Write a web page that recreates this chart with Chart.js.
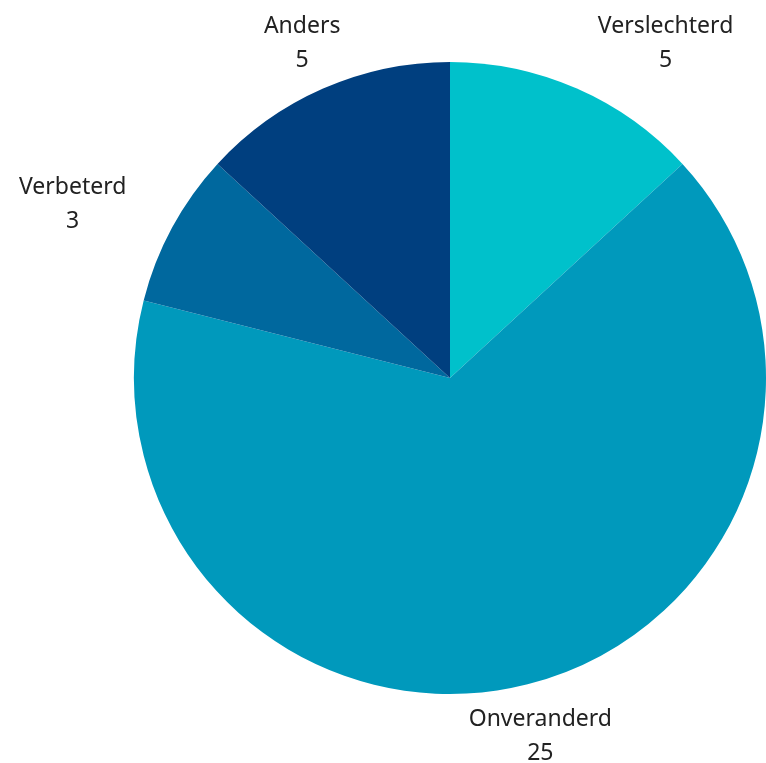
<!DOCTYPE html>
<html>
<head>
<meta charset="utf-8">
<script src="https://cdn.jsdelivr.net/npm/chart.js@4/dist/chart.umd.min.js"></script>
<style>
  html, body { margin: 0; padding: 0; background: #fff; }
  #wrap { width: 766px; height: 763px; }
</style>
</head>
<body>
<div id="wrap"><canvas id="c"></canvas></div>
<script>
const categories = ["Verslechterd", "Onveranderd", "Verbeterd", "Anders"];
const values = [5, 25, 3, 5];
const colors = ["#00c1cb", "#0099bc", "#00689e", "#003f7f"];
const labelAlign = ["left", "center", "right", "center"];

// draws "name / value" outside each slice
const outsideLabels = {
  id: "outsideLabels",
  afterDatasetsDraw(chart) {
    const ctx = chart.ctx;
    const meta = chart.getDatasetMeta(0);
    ctx.save();
    ctx.font = "23px 'Noto Sans', sans-serif";
    ctx.fillStyle = "#222";
    ctx.textBaseline = "middle";
    meta.data.forEach((arc, i) => {
      const mid = (arc.startAngle + arc.endAngle) / 2;
      const r = arc.outerRadius + 52;
      const x = arc.x + Math.cos(mid) * r;
      const y = arc.y + Math.sin(mid) * r + 2;
      ctx.textAlign = labelAlign[i];
      ctx.fillText(categories[i], x, y - 17);
      ctx.textAlign = "center";
      let vx = x;
      const w = ctx.measureText(categories[i]).width;
      if (labelAlign[i] === "left") vx = x + w / 2;
      if (labelAlign[i] === "right") vx = x - w / 2;
      ctx.fillText(String(values[i]), vx, y + 17);
    });
    ctx.restore();
  }
};

new Chart(document.getElementById("c"), {
  type: "pie",
  data: {
    labels: categories,
    datasets: [{
      data: values,
      backgroundColor: colors,
      borderWidth: 0
    }]
  },
  options: {
    responsive: true,
    maintainAspectRatio: false,
    animation: false,
    layout: { padding: { left: 134, top: 62, right: 0, bottom: 69 } },
    plugins: {
      legend: { display: false },
      tooltip: { enabled: false }
    }
  },
  plugins: [outsideLabels]
});
</script>
</body>
</html>
